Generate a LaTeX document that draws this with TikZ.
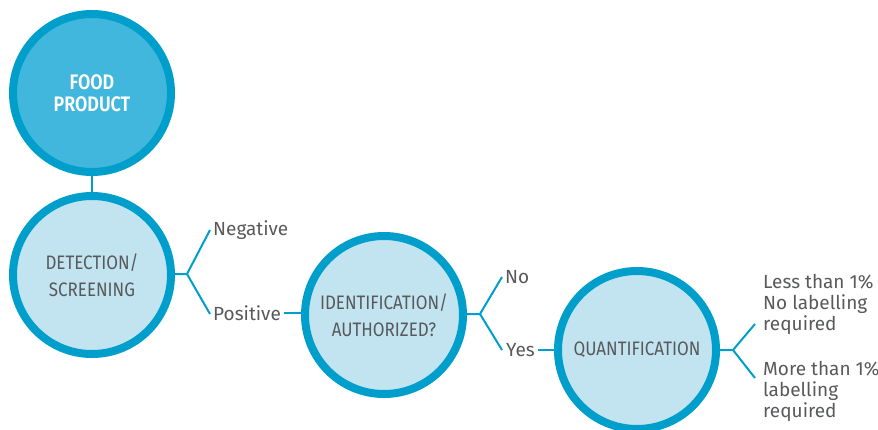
\documentclass[tikz,border=0pt]{standalone}
\usepackage{fontspec}
\setmainfont{Fira Sans}
\newfontfamily\capfont[FakeStretch=0.87]{Fira Sans}
\newfontfamily\boldcapfont[FakeStretch=0.85]{Fira Sans SemiBold}
\definecolor{ring}{RGB}{0,159,203}
\definecolor{darkfill}{RGB}{66,183,221}
\definecolor{lightfill}{RGB}{194,228,241}
\definecolor{txt}{RGB}{88,89,91}
\tikzset{
  circ/.style={circle, draw=ring, line width=8pt, minimum size=158pt, inner sep=0pt, align=center, text=txt, font=\capfont\fontsize{19.5}{27.5}\selectfont},
  topcirc/.style={circ, fill=darkfill, text=white, font=\boldcapfont\fontsize{21}{21.5}\selectfont},
  midcirc/.style={circ, fill=lightfill},
  lbl/.style={anchor=west, inner sep=0pt, text=txt, font=\fontsize{19}{21}\selectfont, align=left},
  conn/.style={draw=ring, line width=2pt}
}
\begin{document}
\begin{tikzpicture}[x=1pt,y=-1pt]
\useasboundingbox (0,0) rectangle (878,429);
\coordinate (f1) at (187,274);
\coordinate (f2) at (480,314);
\coordinate (f3) at (733,350);
\coordinate (e1) at (755,324);
\coordinate (e2) at (755,378);
\node[lbl] (neg) at (213,230) {Negative};
\node[lbl] (pos) at (213,313) {Positive};
\node[lbl] (no) at (505,277) {No};
\node[lbl] (yes) at (506,350) {Yes};
\node[lbl] (less) at (763,304) {Less than 1\%\\No labelling\\required};
\node[lbl] (more) at (763,391) {More than 1\%\\labelling\\required};
\path (92,93) coordinate (p1) (92,275) coordinate (p2) (384,315) coordinate (p3) (637,350) coordinate (p4);
\draw[conn] (p1) -- (p2);
\draw[conn] (p2) -- (f1) -- ([xshift=-3pt]neg.west);
\draw[conn] (f1) -- ([xshift=-3pt,yshift=-1pt]pos.west);
\draw[conn] ([xshift=3pt]pos.east) -- (pos.east -| p3);
\draw[conn] (p3 |- f2) -- (f2) -- ([xshift=-3pt]no.west);
\draw[conn] (f2) -- ([xshift=-4pt]yes.west);
\draw[conn] ([xshift=3pt]yes.east) -- (yes.east -| p4);
\draw[conn] (p4) -- (f3) -- (e1);
\draw[conn] (f3) -- (e2);
\node[topcirc] (c1) at (p1) {FOOD\\PRODUCT};
\node[midcirc] (c2) at (p2) {DETECTION/\\SCREENING};
\node[midcirc] (c3) at (p3) {IDENTIFICATION/\\AUTHORIZED?};
\node[midcirc] (c4) at (p4) {QUANTIFICATION};
\end{tikzpicture}
\end{document}
